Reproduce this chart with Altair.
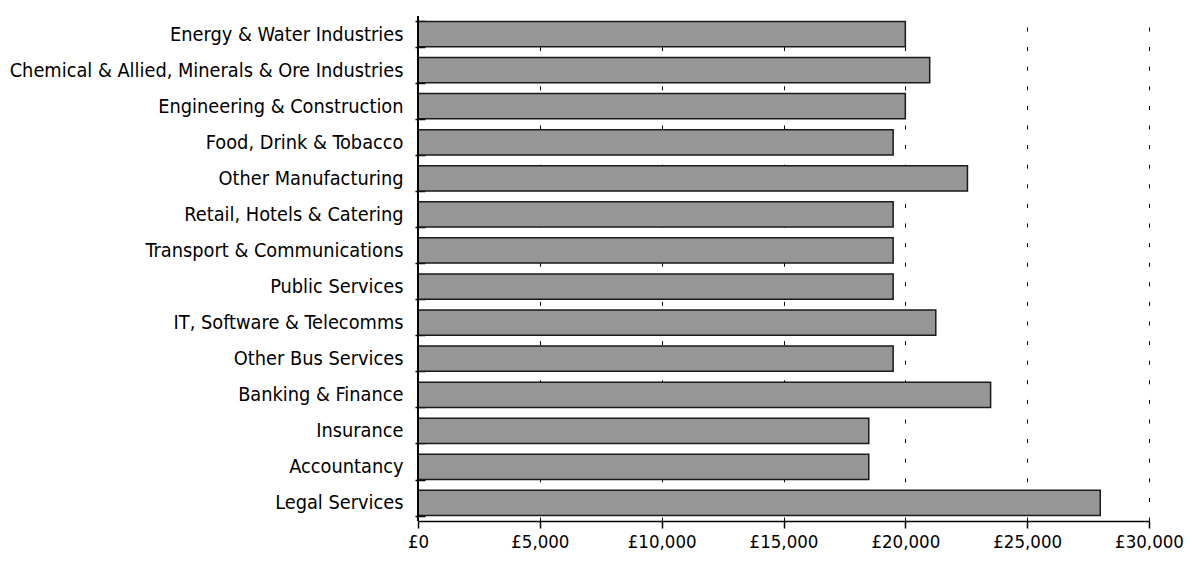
import altair as alt
import pandas as pd

categories = [
    "Energy & Water Industries",
    "Chemical & Allied, Minerals & Ore Industries",
    "Engineering & Construction",
    "Food, Drink & Tobacco",
    "Other Manufacturing",
    "Retail, Hotels & Catering",
    "Transport & Communications",
    "Public Services",
    "IT, Software & Telecomms",
    "Other Bus Services",
    "Banking & Finance",
    "Insurance",
    "Accountancy",
    "Legal Services",
]
salaries = [20000, 21000, 20000, 19500, 22550, 19500, 19500, 19500,
            21250, 19500, 23500, 18500, 18500, 28000]
x_ticks = [0, 5000, 10000, 15000, 20000, 25000, 30000]

df = pd.DataFrame({"sector": categories, "salary": salaries})

FONT = "DejaVu Sans Condensed"

xscale = alt.Scale(domain=[0, 30000], nice=False)

bars = alt.Chart(df).mark_bar(
    color="#969696", stroke="#1a1a1a", strokeWidth=1.5
).encode(
    x=alt.X(
        "salary:Q",
        scale=xscale,
        axis=alt.Axis(
            values=x_ticks,
            labelExpr="'£' + format(datum.value, ',')",
            title=None,
            grid=True,
            gridColor="#000000",
            gridDash=[4, 15.6],
            gridWidth=1,
            domain=True,
            domainColor="#000000",
            domainWidth=1.5,
            tickColor="#000000",
            tickSize=7,
            tickWidth=1.5,
            labelFont=FONT,
            labelFontSize=18.5,
            labelColor="#000000",
            labelPadding=4,
            labelFlush=False,
            labelOverlap=False,
        ),
    ),
    y=alt.Y(
        "sector:N",
        sort=categories,
        scale=alt.Scale(paddingInner=0.3, paddingOuter=0.15),
        axis=alt.Axis(
            title=None,
            domain=False,
            grid=False,
            offset=-7,
            tickBand="extent",
            tickSize=10,
            tickColor="#000000",
            tickWidth=1.5,
            labelFont=FONT,
            labelFontSize=19.8,
            labelColor="#000000",
            labelPadding=12,
            labelLimit=700,
        ),
    ),
)

yline = alt.Chart(df).mark_rule(color="#000000", strokeWidth=1.5).encode(
    x=alt.datum(0, scale=xscale),
)

chart = alt.layer(bars, yline).properties(
    width=731,
    height=505,
    background="#ffffff",
    autosize=alt.AutoSizeParams(type="none"),
    padding={"left": 410, "top": 8, "right": 35, "bottom": 32},
).configure_view(stroke="transparent", strokeWidth=0).configure_axis(grid=False)

chart.save("out.html", embed_options={"renderer": "svg", "actions": False})
